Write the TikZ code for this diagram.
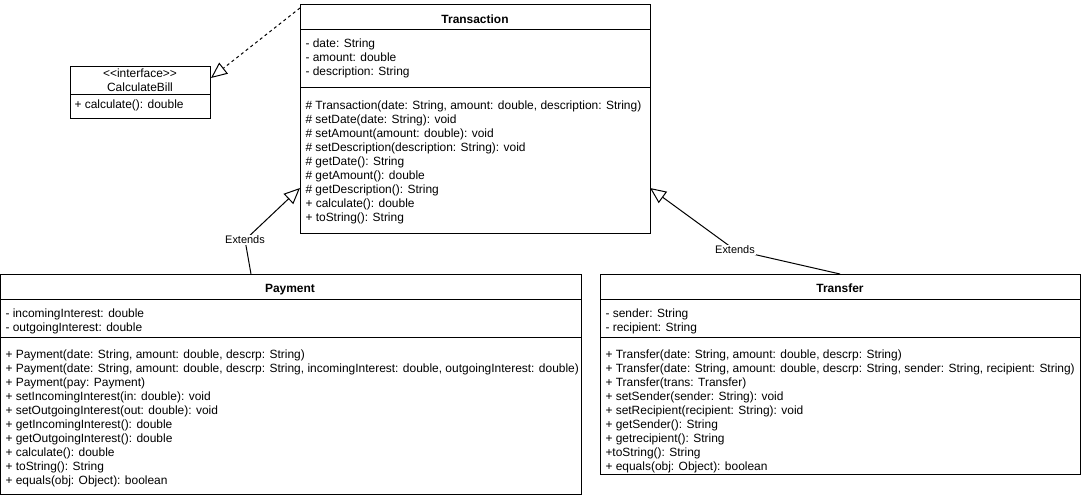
\documentclass[tikz,border=0pt]{standalone}
\usepackage{fontspec}
\setmainfont{Liberation Sans}[Ligatures=TeXOff]
\usetikzlibrary{arrows.meta}
\begin{document}
\begin{tikzpicture}[x=1bp,y=-1bp,line width=1bp,
  classbox/.style={draw,anchor=north west,inner sep=0pt},
  txt/.style={anchor=base west,inner sep=0pt,font=\fontsize{12}{14}\selectfont},
  ttl/.style={anchor=base,inner sep=0pt,font=\fontsize{12}{14}\selectfont\bfseries},
  ctr/.style={anchor=base,inner sep=0pt,font=\fontsize{12}{14}\selectfont},
  lbl/.style={fill=white,inner sep=1pt,font=\fontsize{11}{13}\selectfont},
  gen/.style={-{Triangle[open,length=16bp,width=14bp]}},
  real/.style={dashed,dash pattern=on 3bp off 3bp,-{Triangle[open,length=16bp,width=14bp]}}]
\useasboundingbox (0,0) rectangle (1081,498);
% Transaction
\node[classbox,minimum width=350bp,minimum height=229bp] (trans) at (300,4) {};
\draw (trans.west |- 0,30) -- (trans.east |- 0,30);
\draw (trans.west |- 0,88) -- (trans.east |- 0,88);
\node[ttl] (transT) at (475,23.5) {Transaction};
\foreach \t [count=\i] in {{- date: String},{- amount: double},{- description: String}}
  \node[txt] (ta\i) at (305,47.5+14*\i-14) {\t};
\foreach \t [count=\i] in {{\# Transaction(date: String, amount: double, description: String)},{\# setDate(date: String): void},{\# setAmount(amount: double): void},{\# setDescription(description: String): void},{\# getDate(): String},{\# getAmount(): double},{\# getDescription(): String},{+ calculate(): double},{+ toString(): String}}
  \node[txt] (tm\i) at (305,109.5+14*\i-14) {\t};
% CalculateBill
\node[classbox,minimum width=140bp,minimum height=52bp] (cb) at (70,66) {};
\draw (cb.west |- 0,95) -- (cb.east |- 0,95);
\node[ctr] (cbS) at (140,77.5) {<<interface>>};
\node[ctr] (cbT) at (140,91.5) {CalculateBill};
\node[txt] (cbM) at (74,108.5) {+ calculate(): double};
% Payment
\node[classbox,minimum width=580bp,minimum height=220bp] (pay) at (0.5,274) {};
\draw (pay.west |- 0,300) -- (pay.east |- 0,300);
\draw (pay.west |- 0,338) -- (pay.east |- 0,338);
\node[ttl] (payT) at (290,293) {Payment};
\foreach \t [count=\i] in {{- incomingInterest: double},{- outgoingInterest: double}}
  \node[txt] (pa\i) at (5,317.5+14*\i-14) {\t};
\foreach \t [count=\i] in {{+ Payment(date: String, amount: double, descrp: String)},{+ Payment(date: String, amount: double, descrp: String, incomingInterest: double, outgoingInterest: double)},{+ Payment(pay: Payment)},{+ setIncomingInterest(in: double): void},{+ setOutgoingInterest(out: double): void},{+ getIncomingInterest(): double},{+ getOutgoingInterest(): double},{+ calculate(): double},{+ toString(): String},{+ equals(obj: Object): boolean}}
  \node[txt] (pm\i) at (5,358.5+14*\i-14) {\t};
% Transfer
\node[classbox,minimum width=480bp,minimum height=200bp] (tra) at (600,274) {};
\draw (tra.west |- 0,300) -- (tra.east |- 0,300);
\draw (tra.west |- 0,338) -- (tra.east |- 0,338);
\node[ttl] (traT) at (840,293) {Transfer};
\foreach \t [count=\i] in {{- sender: String},{- recipient: String}}
  \node[txt] (ra\i) at (605,317.5+14*\i-14) {\t};
\foreach \t [count=\i] in {{+ Transfer(date: String, amount: double, descrp: String)},{+ Transfer(date: String, amount: double, descrp: String, sender: String, recipient: String)},{+ Transfer(trans: Transfer)},{+ setSender(sender: String): void},{+ setRecipient(recipient: String): void},{+ getSender(): String},{+ getrecipient(): String},{+toString(): String},{+ equals(obj: Object): boolean}}
  \node[txt] (rm\i) at (605,358.5+14*\i-14) {\t};
% connectors
\coordinate (dashS) at (300,8);
\coordinate (dashE) at (211,78);
\draw[real] (dashS) -- (dashE);
\coordinate (p1) at (251,274);
\coordinate (p2) at (245,240);
\coordinate (p3) at (300,188);
\draw[gen] (p1) -- (p2) -- (p3);
\node[lbl] (ext1) at (p2) {Extends};
\coordinate (q1) at (840,274);
\coordinate (q2) at (735,250);
\coordinate (q3) at (650,188);
\draw[gen] (q1) -- (q2) -- (q3);
\node[lbl] (ext2) at (q2) {Extends};
\end{tikzpicture}
\end{document}
